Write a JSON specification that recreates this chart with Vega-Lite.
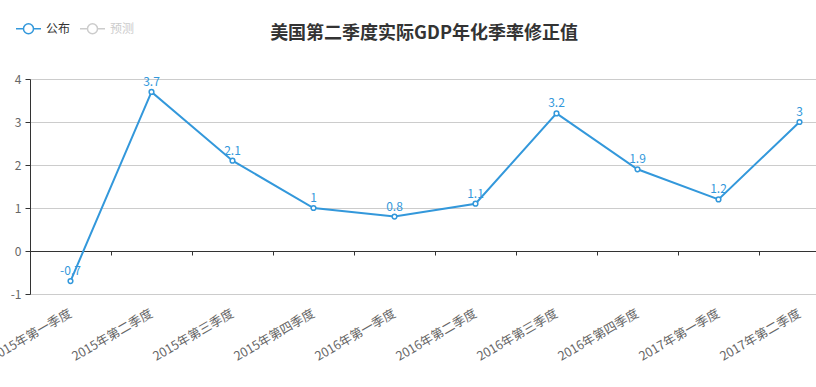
{
  "$schema": "https://vega.github.io/schema/vega-lite/v6.json",
  "autosize": "none",
  "width": 810,
  "height": 215,
  "padding": {"left": 30, "top": 79, "right": 0, "bottom": 93},
  "background": "white",
  "title": {
    "text": "美国第二季度实际GDP年化季率修正值",
    "font": "Noto Sans CJK SC",
    "fontSize": 18,
    "fontWeight": "bold",
    "color": "#333",
    "anchor": "middle",
    "dx": -11,
    "offset": 0,
    "dy": 28
  },
  "config": {
    "view": {"stroke": null},
    "font": "Noto Sans CJK SC"
  },
  "data": {
    "values": [
      {"q": "2015年第一季度", "v": -0.7, "s": "公布"},
      {"q": "2015年第二季度", "v": 3.7, "s": "公布"},
      {"q": "2015年第三季度", "v": 2.1, "s": "公布"},
      {"q": "2015年第四季度", "v": 1, "s": "公布"},
      {"q": "2016年第一季度", "v": 0.8, "s": "公布"},
      {"q": "2016年第二季度", "v": 1.1, "s": "公布"},
      {"q": "2016年第三季度", "v": 3.2, "s": "公布"},
      {"q": "2016年第四季度", "v": 1.9, "s": "公布"},
      {"q": "2017年第一季度", "v": 1.2, "s": "公布"},
      {"q": "2017年第二季度", "v": 3, "s": "公布"}
    ]
  },
  "encoding": {
    "y": {
      "field": "v",
      "type": "quantitative",
      "scale": {"domain": [-1, 4], "nice": false, "zero": false},
      "axis": {
        "values": [-1, 0, 1, 2, 3, 4],
        "labelExpr": "datum.value + ''",
        "title": null,
        "domainColor": "#333",
        "tickColor": "#333",
        "tickSize": 5,
        "labelColor": "#666",
        "labelFontSize": 12,
        "labelPadding": 4,
        "gridColor": "#ccc",
        "grid": true
      }
    }
  },
  "layer": [
    {
      "mark": {"type": "line", "strokeWidth": 2},
      "encoding": {
        "x": {
          "field": "q",
          "type": "nominal",
          "sort": null,
          "bandPosition": 0.5,
          "scale": {"type": "band", "paddingInner": 0, "paddingOuter": 0},
          "axis": {
            "title": null,
            "orient": "bottom",
            "domain": false,
            "ticks": false,
            "grid": false,
            "labelAngle": -30,
            "labelAlign": "right",
            "labelBaseline": "middle",
            "labelPadding": 18,
            "labelColor": "#666",
            "labelFontSize": 12.5
          }
        },
        "color": {
          "field": "s",
          "type": "nominal",
          "scale": {"domain": ["公布", "预测"], "range": ["#3398DB", "#ccc"]},
          "legend": {
            "title": null,
            "orient": "none",
            "direction": "horizontal",
            "legendX": -15,
            "legendY": -64,
            "symbolType": "M-1,0H-0.4M0.4,0H1M-0.4,0A0.4,0.4,0,1,1,0.4,0A0.4,0.4,0,1,1,-0.4,0",
            "symbolSize": 625,
            "symbolStrokeWidth": 1.5,
            "symbolFillColor": "#fff",
            "labelFontSize": 12,
            "labelColor": "#333",
            "labelOffset": 4,
            "columnPadding": 6,
            "encode": {
              "labels": {
                "update": {
                  "fill": {"signal": "datum.value === '预测' ? '#ccc' : '#333'"}
                }
              }
            }
          }
        }
      }
    },
    {
      "mark": {"type": "point", "filled": true, "fill": "#fff", "stroke": "#3398DB", "strokeWidth": 1.5, "size": 22, "opacity": 1},
      "encoding": {
        "x": {
          "field": "q",
          "type": "nominal",
          "sort": null,
          "bandPosition": 0.5,
          "axis": {
            "title": null,
            "orient": "bottom",
            "offset": -43,
            "labels": false,
            "grid": false,
            "domain": true,
            "domainColor": "#333",
            "tickColor": "#333",
            "tickSize": 4,
            "ticks": true,
            "bandPosition": 0
          }
        }
      }
    },
    {
      "mark": {"type": "text", "dy": -10, "color": "#3398DB", "fontSize": 12},
      "encoding": {
        "x": {
          "field": "q",
          "type": "nominal",
          "sort": null,
          "bandPosition": 0.5,
          "axis": null
        },
        "text": {"field": "v", "type": "nominal"}
      }
    }
  ],
  "resolve": {"axis": {"x": "independent"}}
}
